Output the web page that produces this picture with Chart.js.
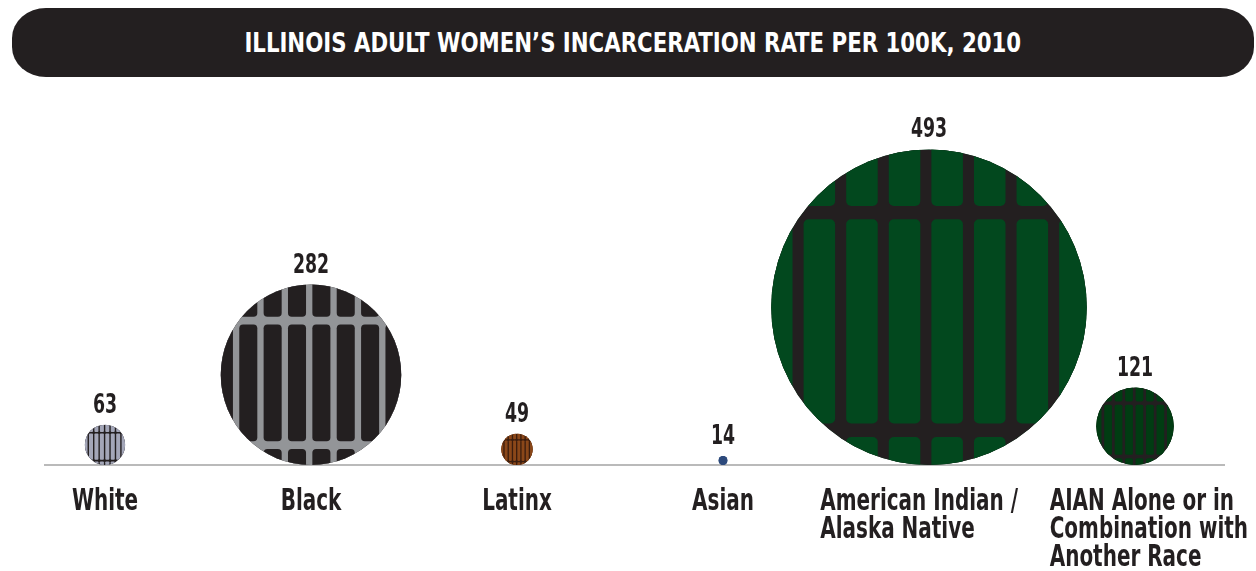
<!DOCTYPE html>
<html lang="en">
<head>
<meta charset="utf-8"/>
<title>Illinois Adult Women's Incarceration Rate per 100K, 2010</title>
<script src="https://cdn.jsdelivr.net/npm/chart.js"></script>
<style>
  body {
    margin: 0;
    background: #fff;
    font-family: 'DejaVu Sans Condensed', 'DejaVu Sans', sans-serif;
  }
  .wrap {
    position: relative;
    width: 1256px;
    height: 571px;
  }
  .titlebar {
    position: absolute;
    left: 12px;
    top: 8px;
    width: 1242px;
    height: 69px;
    border-radius: 34px / 30px;
    background: #231f20;
    color: #fff;
    font-weight: bold;
    font-size: 26px;
    display: flex;
    align-items: center;
    justify-content: center;
  }
  .titlebar span {
    display: inline-block;
    transform: scaleX(0.91);
    white-space: nowrap;
  }
  .chartbox {
    position: absolute;
    left: 0;
    top: 0;
    width: 1256px;
    height: 571px;
  }
</style>
</head>
<body>
<div class="wrap">
  <div class="titlebar"><span>ILLINOIS ADULT WOMEN’S INCARCERATION RATE PER 100K, 2010</span></div>
  <div class="chartbox"><canvas id="chart"></canvas></div>
</div>

<script>
  const FONT = "'DejaVu Sans Condensed', 'DejaVu Sans', sans-serif";

  // data
  const categories = [
    ['White'],
    ['Black'],
    ['Latinx'],
    ['Asian'],
    ['American Indian /', 'Alaska Native'],
    ['AIAN Alone or in', 'Combination with', 'Another Race']
  ];
  const rates = [63, 282, 49, 14, 493, 121];

  // styles
  const fillColors = ['#a3a6b8', '#231f20', '#8a4719', '#2d4a7c', '#02481e', '#013c12'];
  const barColors  = ['#231f20', '#939598', '#3b1d0e', '#2d4a7c', '#231f20', '#231f20'];
  const labelAnchor = [0.5, 0.5, 0.5, 0.5, 0.55, 0.43]; // where the label block hangs off the bubble centre
  const pxPerUnit = 0.32;      // bubble radius in px per 1 unit of rate
  const plotTop = 100, plotBottom = 465, H = 571;
  const squeeze = 0.74;        // narrow the bold face to look condensed

  // y is in pixel units, so a bubble with y == r sits on the baseline
  const points = rates.map((v, i) => ({ x: i, y: v * pxPerUnit, r: v * pxPerUnit }));

  function squeezedText(ctx, txt, x, y, align) {
    ctx.save();
    ctx.translate(x, y);
    ctx.scale(squeeze, 1);
    ctx.textAlign = align;
    ctx.fillText(txt, 0, 0);
    ctx.restore();
  }

  const baseline = {
    id: 'baseline',
    beforeDatasetsDraw(chart) {
      const { ctx, chartArea } = chart;
      ctx.save();
      ctx.strokeStyle = '#a3a3a3';
      ctx.lineWidth = 1.5;
      ctx.beginPath();
      ctx.moveTo(44, chartArea.bottom);
      ctx.lineTo(1225, chartArea.bottom);
      ctx.stroke();
      ctx.restore();
    }
  };

  // prison bars inside each bubble, value on top, category below
  const jailBars = {
    id: 'jailBars',
    afterDatasetsDraw(chart) {
      const { ctx, chartArea } = chart;
      const xs = chart.scales.x;
      const meta = chart.getDatasetMeta(0);
      meta.data.forEach((el, i) => {
        const r = el.options.radius;
        const cx = el.x, cy = el.y;
        const step = r * 0.27;
        const w = Math.max(1.3, r * 0.07);
        const hh = Math.max(1.3, r * 0.085);
        const x0 = cx - r * 0.02;

        ctx.save();
        ctx.beginPath();
        ctx.arc(cx, cy, r, 0, Math.PI * 2);
        ctx.clip();
        ctx.fillStyle = barColors[i];
        ctx.fillRect(cx - r, cy - r, r * 2, r * 2);
        // cells between the bars, with soft corners
        const rows = [
          [cy - r - 10, cy - 0.6 * r - hh / 2],
          [cy - 0.6 * r + hh / 2, cy + 0.78 * r - hh / 2],
          [cy + 0.78 * r + hh / 2, cy + r + 10]
        ];
        const rad = Math.min(w * 0.6, 5);
        ctx.fillStyle = fillColors[i];
        for (let k = -5; k <= 4; k++) {
          const a = x0 + k * step + w / 2;
          const b = x0 + (k + 1) * step - w / 2;
          rows.forEach(([t, btm]) => {
            ctx.beginPath();
            ctx.roundRect(a, t, b - a, btm - t, rad);
            ctx.fill();
          });
        }
        ctx.restore();

        ctx.save();
        ctx.fillStyle = '#231f20';
        ctx.textBaseline = 'alphabetic';
        ctx.font = 'bold 26px ' + FONT;
        squeezedText(ctx, String(rates[i]), cx, cy - r - 12, 'center');

        // category label: left-aligned lines in a block under the bubble
        ctx.font = 'bold 30px ' + FONT;
        const lines = categories[i];
        const px = xs.getPixelForValue(i);
        const blockW = Math.max(...lines.map(t => ctx.measureText(t).width)) * squeeze;
        const left = px - blockW * labelAnchor[i];
        lines.forEach((t, j) => {
          squeezedText(ctx, t, left, chartArea.bottom + 45 + j * 28, 'left');
        });
        ctx.restore();
      });
    }
  };

  new Chart(document.getElementById('chart'), {
    type: 'bubble',
    data: {
      labels: categories,
      datasets: [{
        data: points,
        backgroundColor: fillColors,
        borderWidth: 0,
        hoverRadius: 0,
        clip: false
      }]
    },
    options: {
      responsive: true,
      maintainAspectRatio: false,
      animation: false,
      layout: {
        autoPadding: false,
        padding: { left: 105, right: 121, top: plotTop, bottom: H - plotBottom }
      },
      plugins: {
        legend: { display: false },
        tooltip: { enabled: false }
      },
      scales: {
        x: { type: 'category', offset: false, display: false },
        y: { display: false, min: 0, max: plotBottom - plotTop }
      }
    },
    plugins: [baseline, jailBars]
  });
</script>
</body>
</html>
